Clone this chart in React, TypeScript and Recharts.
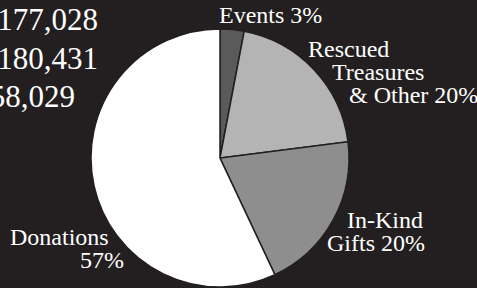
import { Cell, Pie, PieChart } from "recharts";

const slices = ["Events", "Rescued Treasures & Other", "In-Kind Gifts", "Donations"];
const shares = [3, 20, 20, 57];
const fills = ["#5a5a5a", "#b4b4b4", "#8e8e8e", "#ffffff"];

// label text lines per slice
const labelLines = [
  ["Events 3%"],
  ["Rescued", "Treasures", "& Other 20%"],
  ["In-Kind", "Gifts 20%"],
  ["Donations", "57%"],
];
const labelSpots = [
  { x: [219], y: 23, anchor: "start" },
  { x: [308, 332, 349], y: 57, anchor: "start" },
  { x: [347, 327], y: 228, anchor: "start" },
  { x: [10, 80], y: 245, anchor: "start" },
];

const totals = ["177,028", "180,431", "58,029"];

const data = slices.map((name, i) => ({ name, value: shares[i] }));

const bg = "#231f20";
const font = "'Liberation Serif', 'Times New Roman', serif";

function renderLabel({ index }: { index: number }) {
  const spot = labelSpots[index];
  return (
    <text key={index} fontFamily={font} fontSize={24} fill="#ffffff" textAnchor={spot.anchor}>
      {labelLines[index].map((line, j) => (
        <tspan key={j} x={spot.x[j]} y={spot.y + j * 23}>{line}</tspan>
      ))}
    </text>
  );
}

export default function App() {
  return (
    <div style={{ position: "fixed", left: 0, top: 0, width: 477, height: 288, background: bg, overflow: "hidden" }}>
      <PieChart width={477} height={288} margin={{ top: 0, right: 0, bottom: 0, left: 0 }}>
        <Pie
          data={data}
          dataKey="value"
          cx={220}
          cy={158}
          outerRadius={129}
          startAngle={90}
          endAngle={-270}
          stroke={bg}
          strokeWidth={1.5}
          label={renderLabel}
          labelLine={false}
          isAnimationActive={false}
        >
          {data.map((_, i) => <Cell key={i} fill={fills[i]} />)}
        </Pie>
      </PieChart>
      <svg width={477} height={288} style={{ position: "absolute", left: 0, top: 0, pointerEvents: "none" }}>
        {totals.map((t, i) => (
          <text key={i} x={i === 2 ? 75 : 98} y={30 + i * 38.5} textAnchor="end" fontFamily={font} fontSize={31} fill="#ffffff">{t}</text>
        ))}
      </svg>
    </div>
  );
}
